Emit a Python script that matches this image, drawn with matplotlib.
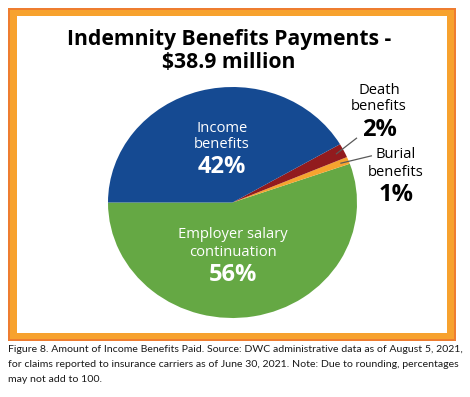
import matplotlib
matplotlib.use("Agg")
import matplotlib.pyplot as plt
from matplotlib.patches import Rectangle
import numpy as np

# ---- data ----
categories = ["Employer salary\ncontinuation", "Burial\nbenefits", "Death\nbenefits", "Income\nbenefits"]
values = [56, 1, 2, 42]
colors = ["#65A844", "#F6A42F", "#921B1E", "#154A92"]
title_lines = ["Indemnity Benefits Payments -", "$38.9 million"]
caption = ("Figure 8. Amount of Income Benefits Paid. Source: DWC administrative data as of August 5, 2021,\n"
           "for claims reported to insurance carriers as of June 30, 2021. Note: Due to rounding, percentages\n"
           "may not add to 100.")

W, H = 470, 397
fig = plt.figure(figsize=(W / 100, H / 100), dpi=100)
fig.patch.set_facecolor("white")
FONT = "Open Sans"

def fx(x):
    return x / W

def fy(y):
    return 1 - y / H

# frame
fig.patches.append(Rectangle((fx(8), fy(341)), fx(448), (333) / H, transform=fig.transFigure,
                             facecolor="#EE7D30", edgecolor="none", zorder=0))
fig.patches.append(Rectangle((fx(10), fy(339)), fx(444), (329) / H, transform=fig.transFigure,
                             facecolor="#F7A22E", edgecolor="none", zorder=0))
fig.patches.append(Rectangle((fx(17), fy(333)), fx(430), (317) / H, transform=fig.transFigure,
                             facecolor="white", edgecolor="none", zorder=0))

# pie axes (slightly elliptical, as in the reference)
pl, pr, pt, pb = 108, 357, 87, 318
ax = fig.add_axes([fx(pl), fy(pb), fx(pr - pl), (pb - pt) / H])
ax.set_zorder(2)
wedges, _ = ax.pie(values, colors=colors, startangle=180, counterclock=True,
                   wedgeprops=dict(linewidth=0))
ax.set_aspect("auto")
ax.set_xlim(-1, 1)
ax.set_ylim(-1, 1)
ax.patch.set_alpha(0)

# rounded shares as shown in the reference
pct = [f"{v}%" for v in values]

# leader lines for small slices
def mid(w):
    return np.deg2rad((w.theta1 + w.theta2) / 2)

for idx, end in [(2, (1.0, 0.56)), (1, (1.12, 0.405))]:
    a = mid(wedges[idx])
    ax.plot([0.93 * np.cos(a), end[0]], [0.93 * np.sin(a), end[1]], color="#5A5A5A",
            lw=0.9, clip_on=False, solid_capstyle="butt")

# title
fig.text(fx(229), fy(39), title_lines[0], ha="center", va="center",
         fontsize=15.2, fontweight="bold", family=FONT, color="black")
fig.text(fx(229), fy(63), title_lines[1], ha="center", va="center",
         fontsize=15.2, fontweight="bold", family=FONT, color="black")

small = 10.6
big = 17

def label(x, ys, lines, color):
    for (y, t, b) in zip(ys, lines, [False, False, True]):
        fig.text(fx(x), fy(y), t, ha="center", va="center",
                 fontsize=big if b else small, fontweight="bold" if b else "normal",
                 family=FONT, color=color, zorder=5)

label(222, [128, 145, 167], categories[3].split("\n") + [pct[3]], "white")
label(233, [235, 252, 275], categories[0].split("\n") + [pct[0]], "white")
label(379, [90, 107, 130], categories[2].split("\n") + [pct[2]], "black")
label(396, [155, 172, 195], categories[1].split("\n") + [pct[1]], "black")

# caption
for i, line in enumerate(caption.split("\n")):
    fig.text(fx(8), fy(350 + i * 14.5), line, ha="left", va="center", fontsize=7.55,
             family="Lato", color="#1a1a1a")

fig.savefig("out.png", dpi=100)
